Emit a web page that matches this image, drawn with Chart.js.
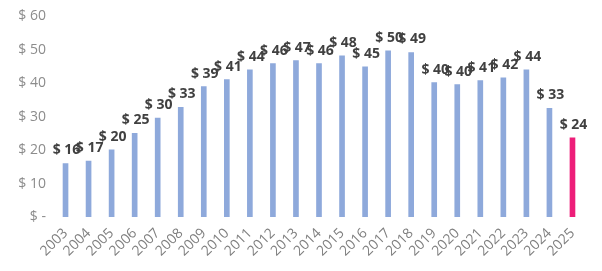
<!DOCTYPE html>
<html>
<head>
<meta charset="utf-8">
<script src="https://cdn.jsdelivr.net/npm/chart.js@4/dist/chart.umd.min.js"></script>
<style>
  html, body { margin: 0; padding: 0; background: #fff; }
  #wrap { width: 602px; height: 271px; }
</style>
</head>
<body>
<div id="wrap"><canvas id="chart"></canvas></div>
<script>
  // années et prix
  const years = ['2003', '2004', '2005', '2006', '2007', '2008', '2009', '2010', '2011', '2012', '2013', '2014',
    '2015', '2016', '2017', '2018', '2019', '2020', '2021', '2022', '2023', '2024', '2025'];
  const prices = [16, 16.7, 20.1, 25, 29.6, 32.8, 39, 41.1, 44, 45.9, 46.8, 45.9,
    48.2, 44.9, 49.7, 49.2, 40.2, 39.6, 40.8, 41.6, 44, 32.5, 23.7];
  const yTicks = [0, 10, 20, 30, 40, 50, 60];

  const barColors = years.map(y => y === '2025' ? '#ED1E79' : '#8EA9DB');

  // étiquettes de valeur au-dessus des barres
  const valueLabels = {
    id: 'valueLabels',
    afterDatasetsDraw(chart) {
      const ctx = chart.ctx;
      const meta = chart.getDatasetMeta(0);
      ctx.save();
      ctx.font = 'bold 14px "Open Sans", sans-serif';
      ctx.fillStyle = '#404040';
      ctx.textAlign = 'center';
      ctx.textBaseline = 'bottom';
      meta.data.forEach((bar, i) => {
        ctx.fillText('$ ' + Math.round(prices[i]), bar.x + 1, bar.y - 6);
      });
      ctx.restore();
    }
  };

  new Chart(document.getElementById('chart'), {
    type: 'bar',
    data: {
      labels: years,
      datasets: [{
        data: prices,
        backgroundColor: barColors,
        barThickness: 5,
      }],
    },
    options: {
      responsive: true,
      maintainAspectRatio: false,
      animation: false,
      layout: { padding: { top: 8, right: 18, left: 0, bottom: 0 } },
      plugins: {
        legend: { display: false },
        tooltip: { enabled: false },
      },
      scales: {
        x: {
          grid: { display: false, drawTicks: false },
          border: { display: false },
          ticks: {
            color: '#7f7f7f',
            font: { family: '"Open Sans", sans-serif', size: 14 },
            autoSkip: false,
            minRotation: 45,
            maxRotation: 45,
            padding: 8,
          },
          afterFit(scale) { scale.height = 54; },
        },
        y: {
          min: 0,
          max: 60,
          grid: { display: false, drawTicks: false },
          border: { display: false },
          afterBuildTicks(scale) { scale.ticks = yTicks.map(v => ({ value: v })); },
          ticks: {
            color: '#8c8c8c',
            font: { family: '"Open Sans", sans-serif', size: 14 },
            padding: 8,
            callback: v => v === 0 ? '$ -' : '$ ' + v,
          },
          afterFit(scale) { scale.width = 54; },
        },
      },
    },
    plugins: [valueLabels],
  });
</script>
</body>
</html>
